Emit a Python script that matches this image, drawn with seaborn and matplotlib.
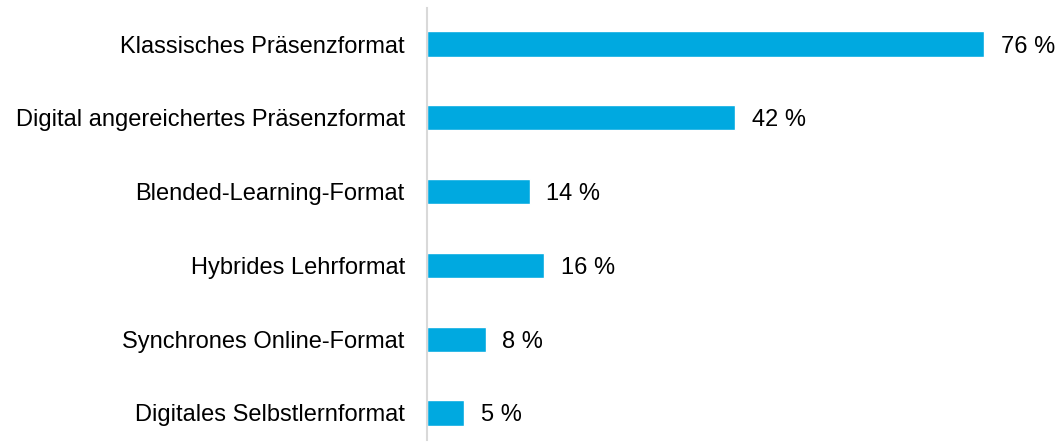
import matplotlib
matplotlib.use("Agg")
import matplotlib.pyplot as plt
import seaborn as sns
import pandas as pd

categories = [
    "Klassisches Präsenzformat",
    "Digital angereichertes Präsenzformat",
    "Blended-Learning-Format",
    "Hybrides Lehrformat",
    "Synchrones Online-Format",
    "Digitales Selbstlernformat",
]
values = [76, 42, 14, 16, 8, 5]
value_labels = ["76 %", "42 %", "14 %", "16 %", "8 %", "5 %"]

sns.set_theme(style="white")
plt.rcParams["font.family"] = ["Liberation Sans", "DejaVu Sans"]

df = pd.DataFrame({"cat": categories, "val": values})

fig = plt.figure(figsize=(10.57, 4.43), dpi=100)
ax = fig.add_axes([427 / 1057, 3 / 443, (1050 - 427) / 1057, 432 / 443])

sns.barplot(data=df, x="val", y="cat", orient="h", color="#00A9E0",
            saturation=1, width=0.34, ax=ax)

for i, (v, lab) in enumerate(zip(values, value_labels)):
    ax.text(v + 2.3, i, lab, va="center_baseline", ha="left", fontsize=17,
            color="#000000")

ax.set_xlim(0, 85)
ax.set_ylim(5.366, -0.488)
ax.set_xlabel("")
ax.set_ylabel("")
ax.set_xticks([])
ax.tick_params(axis="y", length=0, pad=16, labelsize=17, labelcolor="#000000")
for lab in ax.get_yticklabels():
    lab.set_verticalalignment("center_baseline")
for s in ["top", "right", "bottom"]:
    ax.spines[s].set_visible(False)
ax.spines["left"].set_color("#D9D9D9")
ax.spines["left"].set_linewidth(1.5)

fig.savefig("out.png", dpi=100)
